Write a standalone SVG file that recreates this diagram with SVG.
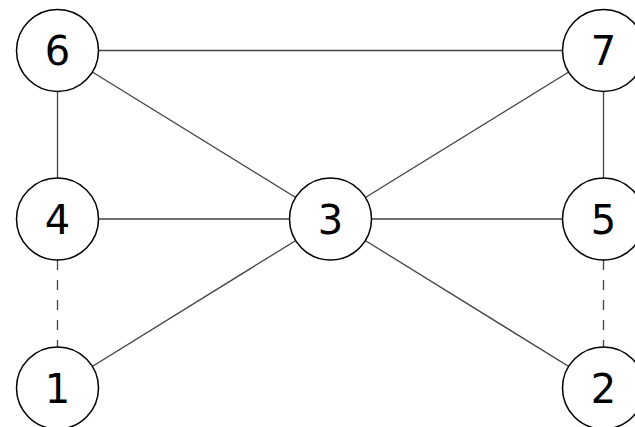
<svg xmlns="http://www.w3.org/2000/svg" width="635" height="427" viewBox="0 0 635 427">
<style>
.e{stroke:#444;stroke-width:1.3;fill:none}
.d{stroke-dasharray:10,10}
.n circle{fill:#fff;stroke:#000;stroke-width:1.5}
.n text{font-family:"DejaVu Sans",sans-serif;font-size:40px;text-anchor:middle;fill:#000}
</style>
<rect width="635" height="427" fill="#fff"/>
<g id="edges">
<line class="e" x1="57.5" y1="50.5" x2="603.5" y2="50.5"/>
<line class="e" x1="57.5" y1="50.5" x2="57.5" y2="219"/>
<line class="e" x1="57.5" y1="50.5" x2="330.5" y2="219"/>
<line class="e" x1="603.5" y1="50.5" x2="330.5" y2="219"/>
<line class="e" x1="603.5" y1="50.5" x2="603.5" y2="219"/>
<line class="e" x1="57.5" y1="219" x2="603.5" y2="219"/>
<line class="e" x1="330.5" y1="219" x2="57.5" y2="388"/>
<line class="e" x1="330.5" y1="219" x2="603.5" y2="388"/>
<line class="e d" x1="57.5" y1="260" x2="57.5" y2="350"/>
<line class="e d" x1="603.5" y1="260" x2="603.5" y2="350"/>
</g>
<g id="n6" class="n"><circle cx="57.5" cy="50.5" r="41"/><text x="57.5" y="65">6</text></g>
<g id="n7" class="n"><circle cx="603.5" cy="50.5" r="41"/><text x="603.5" y="65">7</text></g>
<g id="n4" class="n"><circle cx="57.5" cy="219" r="41"/><text x="57.5" y="233.5">4</text></g>
<g id="n3" class="n"><circle cx="330.5" cy="219" r="41"/><text x="330.5" y="233.5">3</text></g>
<g id="n5" class="n"><circle cx="603.5" cy="219" r="41"/><text x="603.5" y="233.5">5</text></g>
<g id="n1" class="n"><circle cx="57.5" cy="388" r="41"/><text x="57.5" y="402.5">1</text></g>
<g id="n2" class="n"><circle cx="603.5" cy="388" r="41"/><text x="603.5" y="402.5">2</text></g>
</svg>
